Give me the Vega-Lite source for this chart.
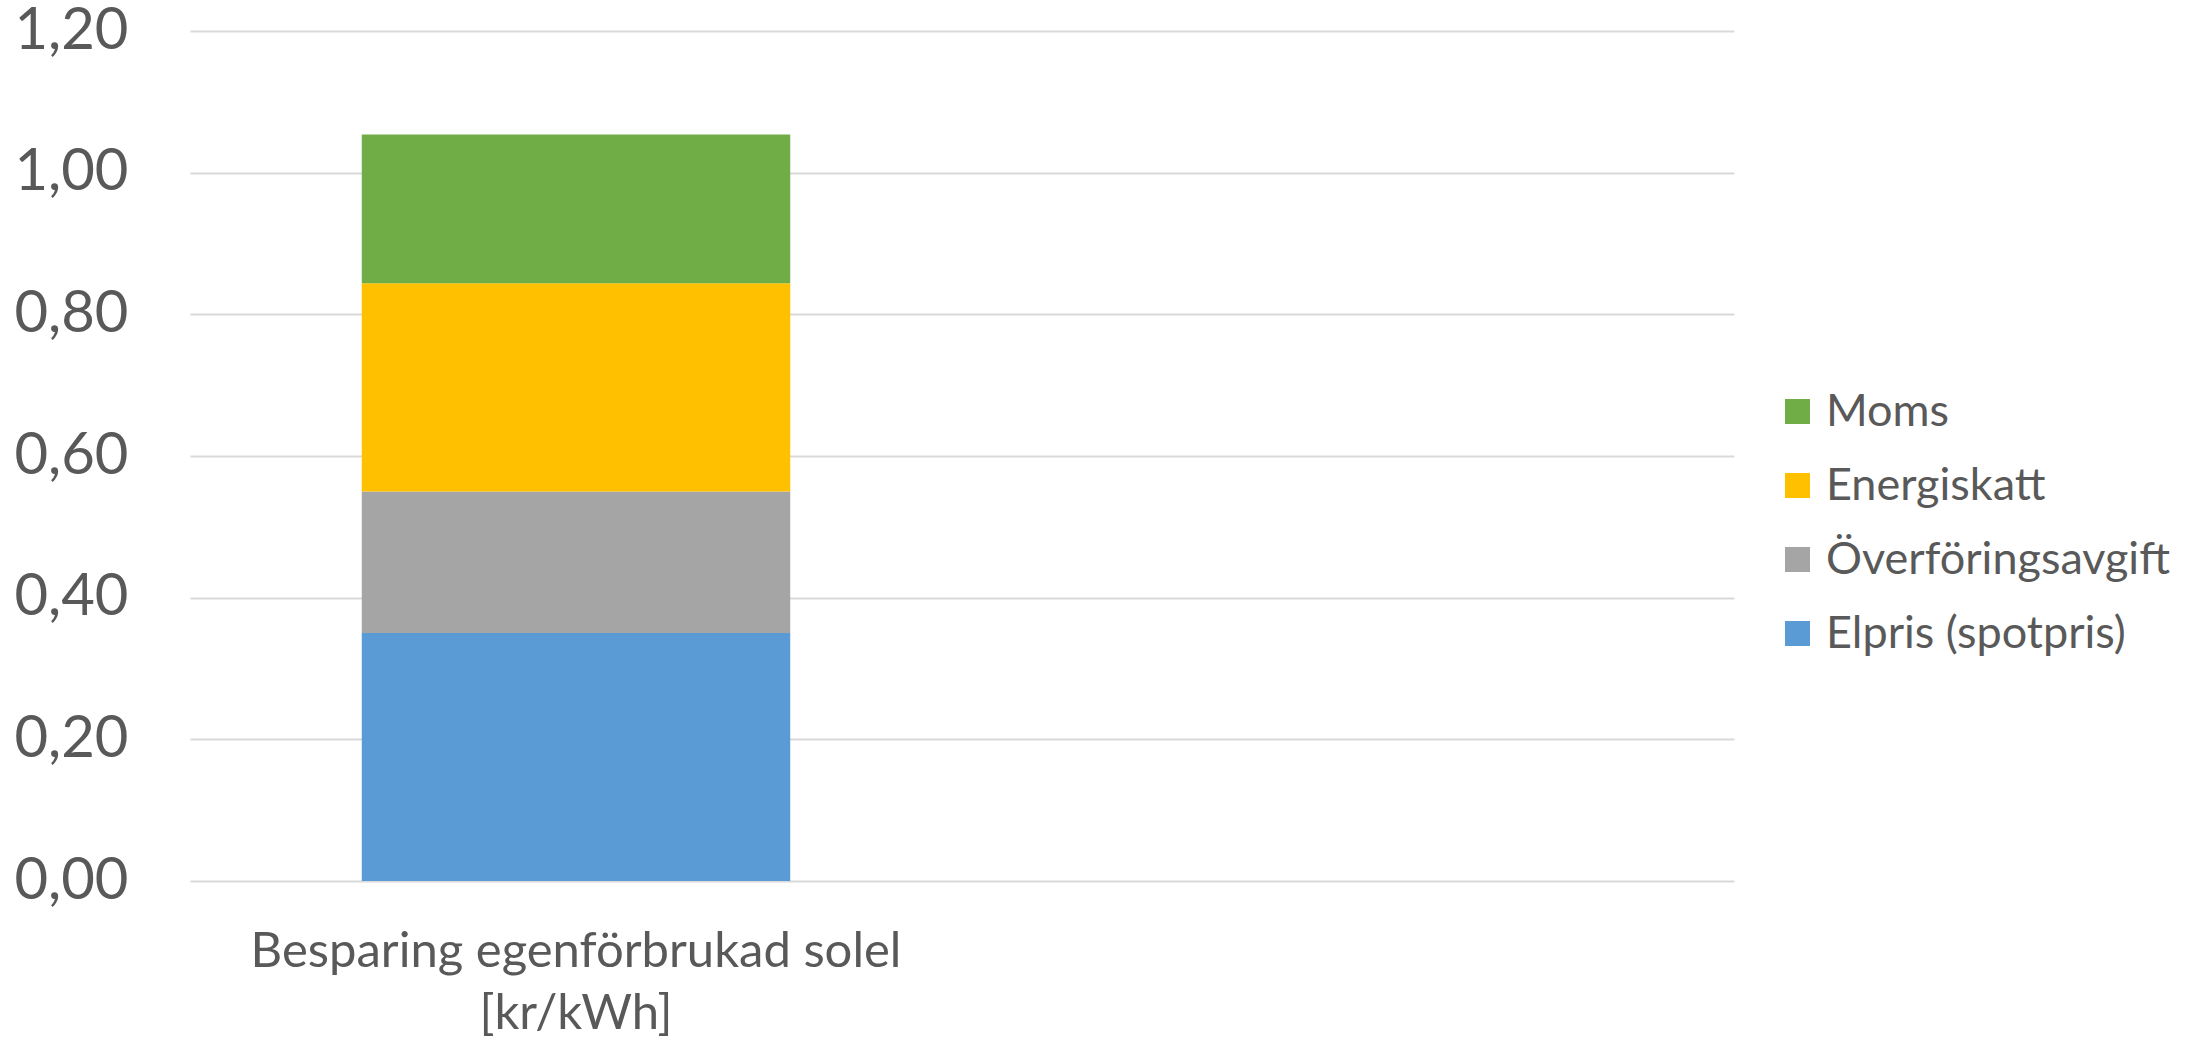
{
  "$schema": "https://vega.github.io/schema/vega-lite/v6.json",
  "autosize": "none",
  "width": 1544,
  "height": 850,
  "padding": {"left": 190, "top": 31, "right": 455, "bottom": 161},
  "background": "white",
  "config": {
    "view": {"stroke": null},
    "font": "Lato"
  },
  "data": {
    "values": [
      {"kategori": "Besparing egenförbrukad solel [kr/kWh]", "komponent": "Elpris (spotpris)", "ordning": 1, "kr": 0.35},
      {"kategori": "Besparing egenförbrukad solel [kr/kWh]", "komponent": "Överföringsavgift", "ordning": 2, "kr": 0.20},
      {"kategori": "Besparing egenförbrukad solel [kr/kWh]", "komponent": "Energiskatt", "ordning": 3, "kr": 0.294},
      {"kategori": "Besparing egenförbrukad solel [kr/kWh]", "komponent": "Moms", "ordning": 4, "kr": 0.21}
    ]
  },
  "mark": {"type": "bar"},
  "encoding": {
    "x": {
      "field": "kategori",
      "type": "nominal",
      "scale": {"domain": ["Besparing egenförbrukad solel [kr/kWh]", " "], "paddingInner": 0.445, "paddingOuter": 0.2225},
      "axis": {
        "title": null,
        "ticks": false,
        "domain": false,
        "labelAngle": 0,
        "labelFont": "Lato",
        "labelFontSize": 49,
        "labelColor": "#595959",
        "labelLineHeight": 62,
        "labelPadding": 46,
        "labelLimit": 2000,
        "labelExpr": "split(replace(datum.label, ' [', '|['), '|')"
      }
    },
    "y": {
      "field": "kr",
      "type": "quantitative",
      "stack": "zero",
      "scale": {"domain": [0, 1.2], "nice": false},
      "axis": {
        "title": null,
        "values": [0, 0.2, 0.4, 0.6, 0.8, 1.0, 1.2],
        "labelExpr": "replace(format(datum.value, '.2f'), '.', ',')",
        "ticks": false,
        "domain": false,
        "grid": true,
        "gridColor": "#d9d9d9",
        "gridWidth": 2,
        "labelFont": "Lato",
        "labelFontSize": 58,
        "labelColor": "#595959",
        "labelPadding": 62
      }
    },
    "color": {
      "field": "komponent",
      "type": "nominal",
      "scale": {
        "domain": ["Moms", "Energiskatt", "Överföringsavgift", "Elpris (spotpris)"],
        "range": ["#70AD47", "#FFC000", "#A5A5A5", "#5B9BD5"]
      },
      "legend": {
        "title": null,
        "orient": "none",
        "legendX": 1585,
        "legendY": 358,
        "padding": 0,
        "symbolType": "square",
        "symbolSize": 625,
        "symbolStrokeWidth": 0,
        "symbolOpacity": 1,
        "labelFont": "Lato",
        "labelFontSize": 45,
        "labelColor": "#595959",
        "labelOffset": 6,
        "rowPadding": 28,
        "labelLimit": 600
      }
    },
    "order": {"field": "ordning", "type": "quantitative"}
  }
}
